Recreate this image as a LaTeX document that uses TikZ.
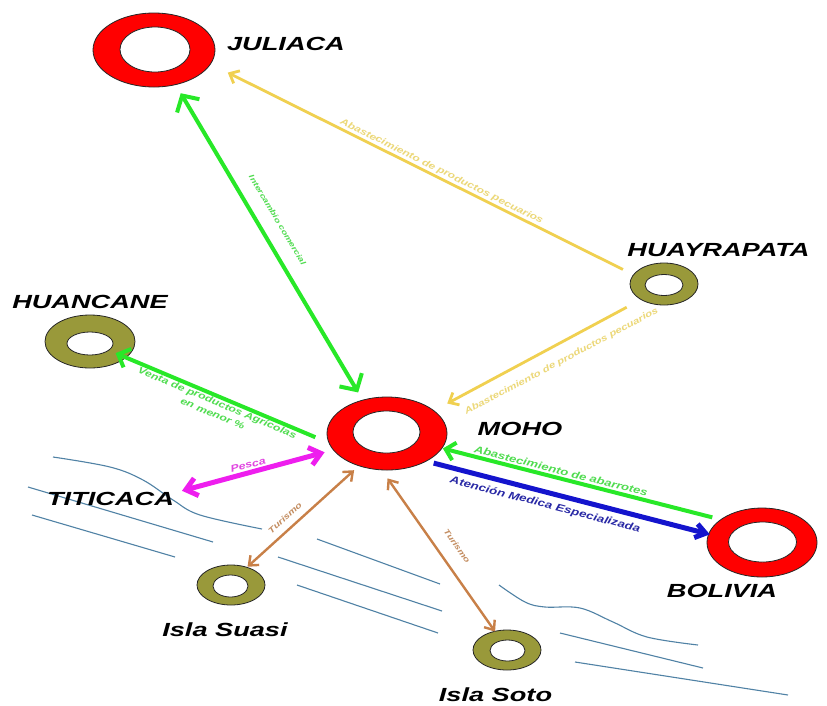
\documentclass[tikz,border=0pt]{standalone}
\usepackage{fontspec}
\usepackage{graphicx}
\usetikzlibrary{shapes.geometric,arrows.meta}
\newfontfamily\lsans{Liberation Sans}
\newcommand{\bigf}{\fontsize{19}{22}\selectfont\lsans\bfseries\itshape}
\newcommand{\lblf}[2]{\fontsize{#1}{#2}\selectfont\lsans\bfseries\itshape}
\newcommand{\bx}[1]{\scalebox{1.43}[1]{#1}}
\newcommand{\sx}[1]{\scalebox{1.3}[1]{#1}}
\definecolor{ringred}{RGB}{255,0,0}
\definecolor{ringolive}{RGB}{153,153,58}
\definecolor{agreen}{RGB}{40,232,40}
\definecolor{tgreen}{RGB}{80,220,80}
\definecolor{ayellow}{RGB}{240,208,80}
\definecolor{tyellow}{RGB}{236,216,120}
\definecolor{amag}{RGB}{238,30,238}
\definecolor{tmag}{RGB}{225,70,225}
\definecolor{ablue}{RGB}{20,20,205}
\definecolor{tblue}{RGB}{40,40,165}
\definecolor{abrown}{RGB}{200,128,72}
\definecolor{tbrown}{RGB}{195,140,95}
\definecolor{watercol}{RGB}{80,130,165}
\tikzset{
  ring/.style={ellipse, draw=black!85, line width=0.8pt, inner sep=0pt},
  redring/.style={ring, fill=ringred},
  olivering/.style={ring, fill=ringolive},
  hole/.style={ellipse, draw=black!85, line width=0.8pt, fill=white, inner sep=0pt},
  place/.style={font=\bigf, inner sep=0pt, text=black},
  lbl/.style={inner sep=0pt},
  water/.style={draw=watercol, line width=1.1pt},
  gbig/.style={draw=agreen, line width=4pt, >={Straight Barb[length=12pt,width=26pt]}},
  gmid/.style={draw=agreen, line width=4pt, >={Straight Barb[length=10pt,width=20pt]}},
  gsml/.style={draw=agreen, line width=4pt, >={Straight Barb[length=9pt,width=18pt]}},
  yel/.style={draw=ayellow, line width=2.8pt, >={Straight Barb[length=8pt,width=14pt]}},
  mag/.style={draw=amag, line width=5pt, >={Straight Barb[length=11pt,width=18pt]}},
  blu/.style={draw=ablue, line width=5pt, >={Straight Barb[length=10pt,width=14pt]}},
  brn/.style={draw=abrown, line width=2.4pt, >={Straight Barb[length=8pt,width=13pt]}}
}
\begin{document}
\begin{tikzpicture}[x=1pt,y=-1pt]
\useasboundingbox (0,0) rectangle (827,705);
\fill[white] (0,0) rectangle (827,705);
% water
\draw[water] plot[smooth, tension=0.6] coordinates {(53,457) (110,467) (143,480) (173,500) (200,515) (262,529)};
\draw[water] (28,487) -- (213,542);
\draw[water] (32,515) -- (175,557);
\draw[water] (317,539) -- (440,584);
\draw[water] (278,557) -- (442,611);
\draw[water] (297,585) -- (438,633);
\draw[water] plot[smooth, tension=0.6] coordinates {(499,585) (525,602) (545,607) (580,608) (613,622) (647,637) (698,645)};
\draw[water] (560,633) -- (703,668);
\draw[water] (575,662) -- (788,695);
% rings
\node[redring, minimum width=122pt, minimum height=74pt] (jul) at (154,50) {};
\node[hole, minimum width=70pt, minimum height=45pt] (jul-in) at (155,49.5) {};
\node[redring, minimum width=120pt, minimum height=73pt] (moho) at (387,433.5) {};
\node[hole, minimum width=67pt, minimum height=42pt] (moho-in) at (386.5,432) {};
\node[redring, minimum width=110pt, minimum height=69pt] (bol) at (762,542.5) {};
\node[hole, minimum width=68pt, minimum height=40pt] (bol-in) at (762.5,542) {};
\node[olivering, minimum width=68pt, minimum height=42pt] (hua) at (664,284) {};
\node[hole, minimum width=38pt, minimum height=21pt] (hua-in) at (664,285) {};
\node[olivering, minimum width=90pt, minimum height=53pt] (huan) at (90,341.5) {};
\node[hole, minimum width=46pt, minimum height=23pt] (huan-in) at (90,343.5) {};
\node[olivering, minimum width=68pt, minimum height=40pt] (suasi) at (231,585) {};
\node[hole, minimum width=35pt, minimum height=22pt] (suasi-in) at (230.5,586) {};
\node[olivering, minimum width=68pt, minimum height=40pt] (soto) at (507,650) {};
\node[hole, minimum width=35pt, minimum height=21pt] (soto-in) at (507.5,650.5) {};
% place names
\node[place] (tjul) at (286,43.5) {\bx{JULIACA}};
\node[place] (thua) at (718.5,250) {\bx{HUAYRAPATA}};
\node[place] (thuan) at (90,301.5) {\bx{HUANCANE}};
\node[place] (tmoho) at (520,429) {\bx{MOHO}};
\node[place] (tit) at (110.5,498.5) {\bx{TITICACA}};
\node[place] (tbol) at (722,591) {\bx{BOLIVIA}};
\node[place] (tsuasi) at (225,630) {\bx{Isla Suasi}};
\node[place] (tsoto) at (495.5,695) {\bx{Isla Soto}};
% connectors
\draw[gbig, <->, shorten <=9.6pt, shorten >=8.5pt] (jul.-58.7) -- (moho.126.2);
\draw[yel, ->, shorten <=11.4pt, shorten >=18.9pt] (hua.163.9) -- (jul.-14.6);
\draw[yel, ->, shorten <=15.9pt, shorten >=14.8pt] (hua.214.1) -- (moho.26.1);
\draw[gmid, ->, shorten <=14.3pt, shorten >=-11.6pt] (moho.189.2) -- (huan.-24.8);
\draw[mag, <->, shorten <=8.7pt, shorten >=8.2pt] (moho.197.3) -- (tit.5);
\draw[gsml, ->, shorten <=8.4pt, shorten >=0.6pt] (bol.151.8) -- (moho.-15.7);
\draw[blu, ->, shorten <=7.2pt, shorten >=-1.6pt] (moho.-35.3) -- (bol.171.6);
\draw[brn, <->, shorten <=6.1pt, shorten >=0.4pt] (moho.229.7) -- (suasi.48.5);
\draw[brn, <->, shorten <=9.9pt, shorten >=-0.75pt] (moho.262.7) -- (soto.123.7);
% connector labels
\node[lbl, text=tgreen, font={\lblf{7.5}{9}}, rotate=-59.2] (l1) at (277.5,220) {\sx{Intercambio comercial}};
\node[lbl, text=tyellow, font={\lblf{9.1}{11}}, rotate=-26.45] (l2) at (441.5,171.5) {\sx{Abastecimiento de productos pecuarios}};
\node[lbl, text=tyellow, font={\lblf{8.8}{11}}, rotate=28.1] (l3) at (561.5,361.5) {\sx{Abastecimiento de productos pecuarios}};
\node[lbl, text=tgreen, font={\lblf{9.3}{12}}, rotate=-22.8, align=center] (l4) at (215,408) {\sx{Venta de productos Agrícolas}\\\sx{en menor \%}};
\node[lbl, text=tmag, font={\lblf{9.6}{11}}, rotate=15.6] (l5) at (248,465) {\sx{Pesca}};
\node[lbl, text=tgreen, font={\lblf{10}{12}}, rotate=-14.3] (l6) at (561,471) {\sx{Abastecimiento de abarrotes}};
\node[lbl, text=tblue, font={\lblf{10.2}{12}}, rotate=-14.6] (l7) at (545,505) {\sx{Atención Medica Especializada}};
\node[lbl, text=tbrown, font={\lblf{8.2}{10}}, rotate=41.9] (l8) at (285,518) {\sx{Turismo}};
\node[lbl, text=tbrown, font={\lblf{7.8}{10}}, rotate=-55.2] (l9) at (457,546) {\sx{Turismo}};
\end{tikzpicture}
\end{document}
